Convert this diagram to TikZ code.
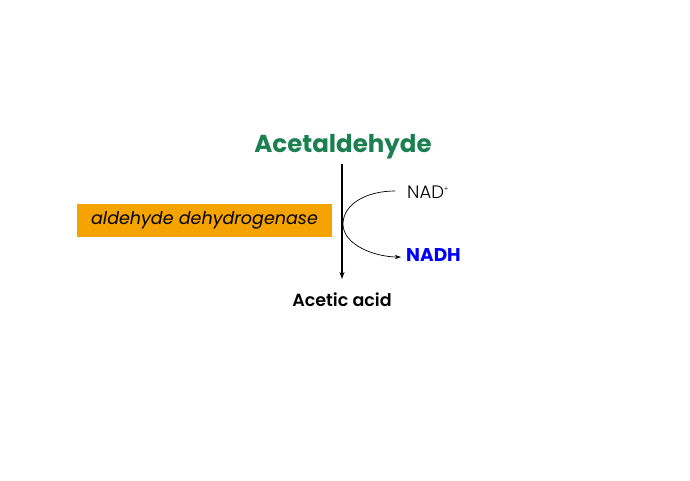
\documentclass[tikz,border=0pt]{standalone}
\usepackage{fontspec}
\setmainfont{Poppins}
\newfontfamily\poplight{Poppins Light}
\newfontfamily\popsemi{Poppins SemiBold}
\usetikzlibrary{arrows.meta}
\definecolor{accgreen}{HTML}{1A8050}
\definecolor{enzorange}{HTML}{F5A300}
\begin{document}
\begin{tikzpicture}[x=1pt,y=-1pt,
  lbl/.style={inner sep=0pt,anchor=center},
  enzyme/.style={fill=enzorange,minimum width=255pt,minimum height=33pt,inner sep=0pt,font=\fontsize{17.5}{20}\selectfont\itshape},
  mainarrow/.style={draw,line width=1.3pt,-{Stealth[length=7pt,width=5pt]}},
  sidearrow/.style={draw,line width=0.7pt,-{Stealth[length=6pt,width=4pt]}}]
\useasboundingbox (0,0) rectangle (690,480);
\node[lbl,font=\fontsize{24.5}{27}\selectfont\bfseries,text=accgreen] (sub) at (343,147) {Acetaldehyde};
\node[lbl,font=\fontsize{17.5}{20}\selectfont\popsemi] (prod) at (342,300) {Acetic acid};
\node[enzyme] (enz) at (204.5,220.5) {aldehyde dehydrogenase};
\node[lbl,font=\fontsize{18}{20}\selectfont\poplight,anchor=west] (nad) at (407,192) {NAD\raisebox{7pt}{\fontsize{7}{8}\selectfont+}};
\node[lbl,font=\fontsize{18.5}{20}\selectfont\bfseries,text=blue,anchor=west] (nadh) at (406,255) {NADH};
\coordinate (top) at (342,164);
\coordinate (bot) at (342,279);
\draw[mainarrow] (top) -- (bot);
\coordinate (s) at (395,191);
\coordinate (c) at (343,224);
\coordinate (e) at (401,257);
\draw[sidearrow] (s) .. controls (365,191) and (343,205) .. (c) .. controls (343,245) and (375,257) .. (e);
\end{tikzpicture}
\end{document}
